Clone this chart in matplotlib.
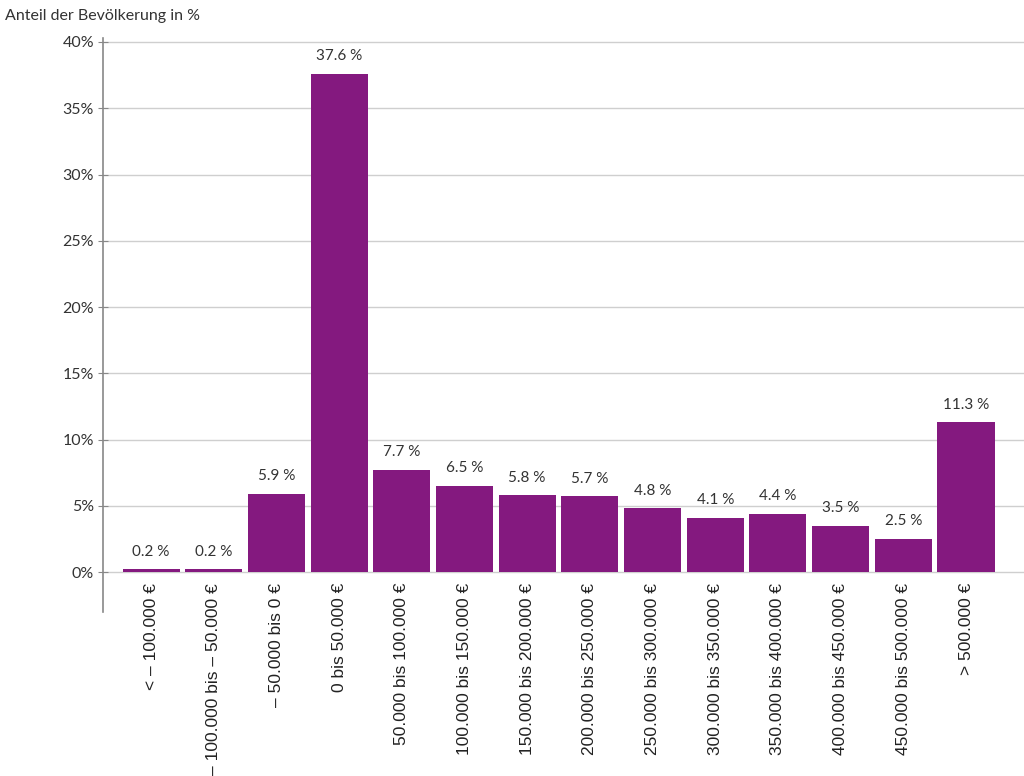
import numpy as np
import matplotlib
matplotlib.use("Agg")
import matplotlib.pyplot as plt

# Vermögensklassen und Anteile
kategorien = ["< – 100.000 €", "– 100.000 bis – 50.000 €", "– 50.000 bis 0 €",
              "0 bis 50.000 €", "50.000 bis 100.000 €", "100.000 bis 150.000 €",
              "150.000 bis 200.000 €", "200.000 bis 250.000 €", "250.000 bis 300.000 €",
              "300.000 bis 350.000 €", "350.000 bis 400.000 €", "400.000 bis 450.000 €",
              "450.000 bis 500.000 €", "> 500.000 €"]
anteile = [0.2, 0.2, 5.9, 37.6, 7.7, 6.5, 5.8, 5.7, 4.8, 4.1, 4.4, 3.5, 2.5, 11.3]
yticks = [0, 5, 10, 15, 20, 25, 30, 35, 40]

lila = "#84197f"
text_col = "#333333"

fig = plt.figure(figsize=(10.24, 7.76), dpi=100)
ax = fig.add_axes([0.1006, 0.2113, 0.8994, 0.7397])

x = np.arange(len(kategorien))
ax.bar(x, anteile, width=0.91, color=lila, zorder=3)

for xi, v in zip(x, anteile):
    ax.text(xi, v + 0.8, f"{v:.1f} %", ha="center", va="bottom",
            fontsize=11, color=text_col, family="Lato")

ax.set_xlim(-0.766, 13.925)
ax.set_ylim(-3.02, 40.3)
ax.set_yticks(yticks)
ax.set_yticklabels([f"{t}%" for t in yticks], fontsize=11.5, color=text_col, family="Lato")
for t in yticks:
    ax.axhline(t, color="#cfcfcf", lw=1, zorder=1)

ax.set_xticks(x)
ax.set_xticklabels(kategorien, rotation=90, fontsize=12.5, color="#222222",
                   family="Liberation Sans", va="top")
ax.tick_params(axis="x", length=0, pad=-21)
ax.tick_params(axis="y", direction="inout", length=7, color="#888888", pad=3)

for s in ["top", "right", "bottom"]:
    ax.spines[s].set_visible(False)
ax.spines["left"].set_color("#888888")
ax.spines["left"].set_linewidth(1.2)

fig.text(0.005, 0.98, "Anteil der Bevölkerung in %", fontsize=11.5,
         color=text_col, family="Lato", ha="left", va="center")

fig.savefig("out.png", dpi=100)
